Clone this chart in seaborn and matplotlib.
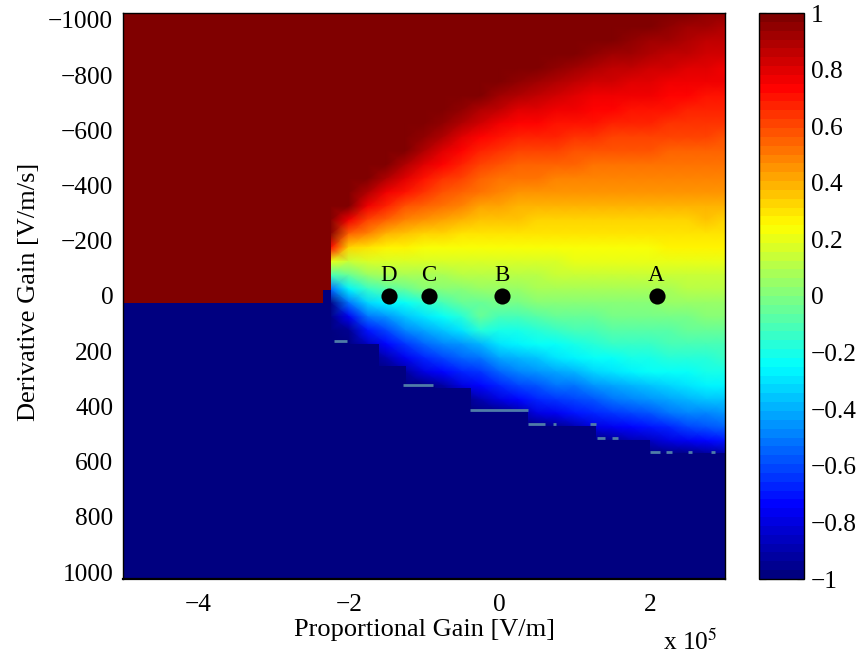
import numpy as np
import matplotlib
matplotlib.use('Agg')
import matplotlib.pyplot as plt
import seaborn as sns
from matplotlib.colors import LinearSegmentedColormap
from matplotlib.transforms import Affine2D

# Proportional gain / derivative gain grid of the smooth part, percent of full scale
grid_x0, grid_dx = -2.5, 0.25
grid_y0, grid_dy = -1025, 50

col_m250 = [100]*16 + [100, 72, 20, -10, -55, -100] + [-100]*11
col_m225 = [100]*16 + [100, 72, 20, -10, -55, -100] + [-100]*11
col_m200 = [100]*14 + [99, 78, 56, 34, 15, -5, -27, -52, -76, -94] + [-100]*9
col_m175 = [100]*13 + [90, 76, 62, 48, 30, 17, 4, -14, -34, -52, -70, -86] + [-100]*8
col_m150 = [100]*12 + [88, 77, 66, 54, 40, 27, 16, 7, -8, -28, -44, -60, -74, -90] + [-100]*7
col_m125 = [100]*10 + [98, 89, 79, 70, 59, 48, 37, 25, 16, 7, -4, -24, -37, -50, -64, -78, -93] + [-100]*6
col_m100 = [100]*9 + [96, 88, 79, 71, 64, 54, 44, 34, 24, 17, 9, 1, -16, -31, -42, -54, -66, -80] + [-100]*6
col_m075 = [100]*8 + [95, 88, 80, 72, 65, 58, 50, 41, 33, 24, 17, 9, 2, -11, -24, -36, -49, -61, -72, -91] + [-100]*5
col_m050 = [100]*7 + [95, 88, 81, 74, 67, 60, 54, 47, 39, 31, 24, 17, 10, 3, -6, -18, -30, -44, -56, -67, -81] + [-100]*5
col_m025 = [100]*6 + [97, 89, 82, 74, 68, 62, 56, 50, 43, 37, 30, 24, 17, 11, 4, -4, -6, -18, -38, -52, -64, -73, -88] + [-100]*4
col_p000 = [100]*6 + [92, 85, 78, 71, 65, 59, 53, 47, 41, 35, 30, 24, 18, 11, 5, -2, -11, -20, -31, -42, -54, -67, -79] + [-100]*4
col_p025 = [100]*5 + [96, 89, 81, 74, 68, 62, 56, 50, 45, 40, 35, 29, 24, 18, 12, 6, -1, -10, -19, -28, -39, -50, -62, -73, -92] + [-100]*3
col_p050 = [100]*4 + [99, 92, 85, 79, 73, 67, 61, 55, 50, 45, 40, 34, 29, 24, 18, 12, 7, 1, -7, -16, -24, -35, -45, -57, -68, -79] + [-100]*3
col_p075 = [100]*4 + [95, 89, 82, 76, 71, 66, 60, 55, 49, 45, 40, 34, 29, 24, 18, 13, 7, 1, -6, -14, -22, -31, -42, -53, -65, -76, -96] + [-100]*2
col_p100 = [100]*3 + [97, 92, 86, 80, 75, 69, 64, 59, 54, 49, 44, 40, 34, 29, 24, 19, 13, 8, 2, -5, -12, -19, -27, -39, -51, -61, -71, -89] + [-100]*2
col_p125 = [100]*3 + [95, 89, 84, 78, 73, 69, 63, 58, 53, 48, 44, 39, 34, 29, 24, 19, 13, 8, 2, -4, -10, -17, -24, -34, -45, -57, -68, -79] + [-100]*2
col_p150 = [100]*2 + [98, 92, 87, 82, 77, 72, 67, 62, 58, 53, 48, 44, 39, 34, 29, 24, 19, 13, 8, 3, -3, -9, -15, -22, -31, -42, -53, -64, -76, -96] + [-100]
col_p175 = [100]*2 + [95, 91, 86, 81, 76, 71, 67, 62, 57, 53, 48, 44, 39, 34, 29, 24, 19, 14, 8, 3, -3, -8, -14, -21, -28, -39, -50, -61, -73, -89] + [-100]
col_p200 = [100, 98, 93, 89, 84, 80, 75, 70, 66, 62, 57, 53, 48, 44, 39, 34, 29, 24, 19, 14, 9, 3, -2, -8, -13, -19, -25, -36, -46, -57, -70, -85, -100]
col_p225 = [100, 95, 91, 87, 82, 78, 73, 69, 65, 61, 56, 52, 48, 44, 39, 34, 29, 25, 19, 14, 9, 4, -2, -7, -12, -18, -24, -33, -43, -52, -66, -80, -98]
col_p250 = [98, 93, 89, 85, 80, 76, 72, 68, 64, 60, 56, 52, 48, 44, 39, 34, 30, 25, 20, 15, 10, 4, -1, -6, -12, -17, -23, -30, -39, -49, -61, -76, -98]
col_p275 = [96, 91, 87, 83, 79, 75, 71, 67, 63, 60, 56, 52, 48, 44, 39, 35, 30, 25, 20, 15, 10, 5, 0, -5, -11, -16, -21, -28, -37, -47, -59, -73, -96]
col_p300 = [94, 90, 86, 82, 78, 75, 71, 67, 63, 59, 55, 51, 47, 44, 39, 34, 30, 25, 20, 15, 10, 5, 0, -5, -10, -15, -20, -26, -35, -45, -56, -71, -92]

smooth_cols = [col_m250, col_m225, col_m200, col_m175, col_m150, col_m125, col_m100, col_m075,
               col_m050, col_m025, col_p000, col_p025, col_p050, col_p075, col_p100, col_p125,
               col_p150, col_p175, col_p200, col_p225, col_p250, col_p275, col_p300]

# Saturated regions: staircase edges
edge_gain = [-5, -2.34, -2.25, -1.6, -1.25, -0.87, -0.38, 0.38, 1.28, 2.0, 3]
blue_edge = [25, -20, 174, 257, 326, 337, 420, 471, 522, 572]
red_edge = [25, -20]

# Thin grey-blue streaks along the staircase
streak_x0 = [-2.19, -1.28, -0.385, 0.385, 0.72, 1.21, 1.30, 1.50, 2.0, 2.21, 2.51, 2.82]
streak_x1 = [-2.02, -0.88, 0.385, 0.61, 0.76, 1.28, 1.40, 1.58, 2.14, 2.30, 2.56, 2.87]
streak_y = [163, 322, 413, 464, 464, 464, 514, 514, 565, 565, 565, 565]

# Marked operating points
point_names = ['A', 'B', 'C', 'D']
point_x = [2.1, 0.04, -0.93, -1.46]
point_y = [0, 0, 0, 0]

x_ticks = [-4, -2, 0, 2]
y_ticks = [-1000, -800, -600, -400, -200, 0, 200, 400, 600, 800, 1000]
cbar_ticks = [-1, -0.8, -0.6, -0.4, -0.2, 0, 0.2, 0.4, 0.6, 0.8, 1]
cbar_labels = ['\u22121', '\u22120.8', '\u22120.6', '\u22120.4', '\u22120.2', '0', '0.2', '0.4', '0.6', '0.8', '1']

sns.set_theme(style='white')
plt.rcParams['font.family'] = ['Liberation Serif', 'DejaVu Serif']
plt.rcParams['mathtext.fontset'] = 'stix'
plt.rcParams['axes.edgecolor'] = 'black'

W, H = 859, 654
fig = plt.figure(figsize=(W / 100, H / 100), dpi=100)
ax = fig.add_axes([123 / W, 1 - 579 / H, 602 / W, 566 / H])
cax = fig.add_axes([759 / W, 1 - 579 / H, 45 / W, 566 / H])

# MATLAB style jet, 64 levels
cmap = LinearSegmentedColormap.from_list('matlab_jet', [
    (0, (0, 0, 0.5)), (0.125, (0, 0, 1)), (0.375, (0, 1, 1)), (0.5, (0.5, 1, 0.5)),
    (0.625, (1, 1, 0)), (0.875, (1, 0, 0)), (1, (0.5, 0, 0))], N=64)

# Smooth part: vertices of the grid, gouraud shaded
smooth = np.array(smooth_cols).T / 100
sns.heatmap(smooth, ax=ax, cmap=cmap, vmin=-1, vmax=1, cbar=False,
            xticklabels=False, yticklabels=False, shading='gouraud')
mesh = ax.collections[-1]
mesh.set_transform(Affine2D().scale(grid_dx, grid_dy).translate(grid_x0, grid_y0) + ax.transData)

# Saturated part on a fine flat grid, the rest is masked
flat_dx, flat_dy = 0.02, 5
flat_x = np.arange(-5, 3, flat_dx) + flat_dx / 2
flat_y = np.arange(-1025, 1025, flat_dy) + flat_dy / 2
idx = np.searchsorted(edge_gain, flat_x) - 1
flat = np.full((flat_y.size, flat_x.size), np.nan)
for j, k in enumerate(idx):
    flat[flat_y >= blue_edge[k], j] = -1
    if k < len(red_edge):
        flat[flat_y < red_edge[k], j] = 1
sns.heatmap(flat, ax=ax, cmap=cmap, vmin=-1, vmax=1, cbar_ax=cax, mask=np.isnan(flat),
            xticklabels=False, yticklabels=False, cbar_kws={'ticks': cbar_ticks})
mesh2 = ax.collections[-1]
mesh2.set_transform(Affine2D().scale(flat_dx, flat_dy).translate(-5, -1025) + ax.transData)

ax.hlines(streak_y, streak_x0, streak_x1, color='#4f7ca8', linewidth=2, zorder=2)
sns.scatterplot(x=point_x, y=point_y, ax=ax, s=135, color='black', linewidth=0, zorder=3, legend=False)
for name, px, py in zip(point_names, point_x, point_y):
    ax.text(px - 0.01, py - 75, name, ha='center', va='center', fontsize=16.5, color='black', zorder=4)

ax.set_xlim(-5, 3)
ax.set_ylim(1025, -1025)
ax.set_xticks(x_ticks)
ax.set_xticklabels([str(t).replace('-', '\u2212') for t in x_ticks])
ax.set_yticks(y_ticks)
ax.set_yticklabels([str(t).replace('-', '\u2212') for t in y_ticks])
ax.tick_params(direction='in', length=5, width=0.8, color='black', top=True, right=True,
               bottom=True, left=True, labelsize=18.3, pad=7, labelcolor='black')
ax.tick_params(axis='x', pad=11)
for s in ax.spines.values():
    s.set_visible(True)
    s.set_color('black')
    s.set_linewidth(1)
ax.spines['bottom'].set_linewidth(1.6)
ax.set_xlabel('Proportional Gain [V/m]', fontsize=19, color='black', labelpad=2, visible=True)
ax.set_ylabel('Derivative Gain [V/m/s]', fontsize=19, color='black', labelpad=6, y=0.507, visible=True)
ax.text(2.9, 1255, 'x 10$^5$', ha='right', va='center', fontsize=18.3, color='black')

cbar = mesh2.colorbar
cbar.set_ticklabels(cbar_labels)
cbar.ax.tick_params(direction='in', length=5, width=0.8, color='black', right=True, left=True,
                    labelsize=18.3, pad=5, labelcolor='black')
cbar.outline.set_visible(True)
cbar.outline.set_edgecolor('black')
cbar.outline.set_linewidth(1)

fig.savefig('out.png', dpi=100)
